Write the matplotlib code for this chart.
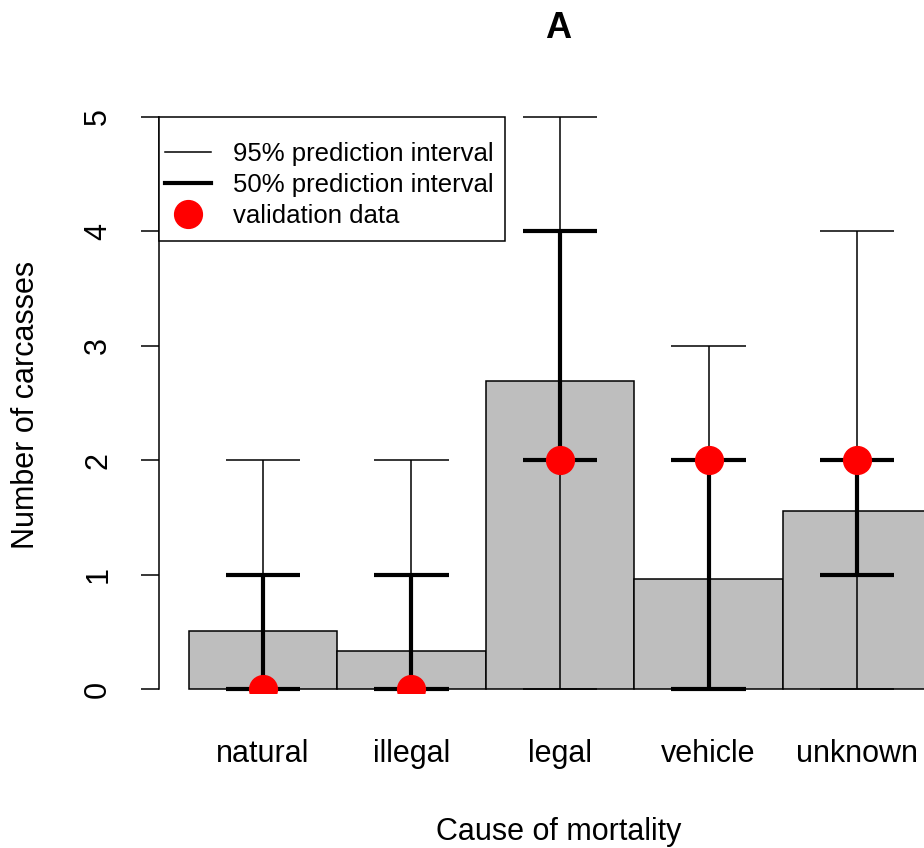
import matplotlib
matplotlib.use("Agg")
import matplotlib.pyplot as plt
import numpy as np
from matplotlib.lines import Line2D
from matplotlib.patches import Rectangle

# Predicted carcass counts by cause of mortality, with prediction intervals
categories = ["natural", "illegal", "legal", "vehicle", "unknown"]
predicted = [0.51, 0.33, 2.69, 0.96, 1.56]
pi95_low = [0, 0, 0, 0, 0]
pi95_high = [2, 2, 5, 3, 4]
pi50_low = [0, 0, 2, 0, 1]
pi50_high = [1, 1, 4, 2, 2]
observed = [0, 0, 2, 2, 2]
y_ticks = [0, 1, 2, 3, 4, 5]
legend_labels = ["95% prediction interval", "50% prediction interval", "validation data"]

plt.rcParams["font.family"] = ["Liberation Sans", "DejaVu Sans"]

W, H = 924, 848
fig = plt.figure(figsize=(W / 100, H / 100), dpi=100)
left, right, top, bottom = 159, 961, 117, 693
ax_w, ax_h = right - left, bottom - top
ax = fig.add_axes([left / W, 1 - bottom / H, ax_w / W, ax_h / H])

x = np.arange(len(categories)) + 0.5
thin, thick, cap = 1.1, 3.0, 0.25

ax.bar(x, predicted, width=1.0, color="#bebebe", edgecolor="black",
       linewidth=thin, zorder=1)

# 95% intervals
ax.vlines(x, pi95_low, pi95_high, colors="black", linewidth=thin, zorder=2, clip_on=False)
ax.hlines(pi95_low, x - cap, x + cap, colors="black", linewidth=thin, zorder=2, clip_on=False)
ax.hlines(pi95_high, x - cap, x + cap, colors="black", linewidth=thin, zorder=2, clip_on=False)

# 50% intervals
ax.vlines(x, pi50_low, pi50_high, colors="black", linewidth=thick, zorder=3, clip_on=False)
ax.hlines(pi50_low, x - cap, x + cap, colors="black", linewidth=thick, zorder=3, clip_on=False)
ax.hlines(pi50_high, x - cap, x + cap, colors="black", linewidth=thick, zorder=3, clip_on=False)

ax.plot(x, observed, "o", color="red", markersize=20, zorder=4)

ax.set_xlim(-0.2, 5.2)
ax.set_ylim(-0.035, 5)

for s in ("top", "right", "bottom"):
    ax.spines[s].set_visible(False)
ax.spines["left"].set_bounds(0, 5)
ax.spines["left"].set_linewidth(thin)

ax.set_yticks(y_ticks)
ax.set_yticklabels([str(v) for v in y_ticks], rotation=90, va="center")
ax.tick_params(axis="y", direction="out", length=13, width=thin, pad=20,
               labelsize=22, colors="black")
ax.set_xticks(x, categories)
ax.tick_params(axis="x", length=0, pad=33, labelsize=22)

ax.set_ylabel("Number of carcasses", fontsize=22, va="center")
ax.yaxis.set_label_coords(-0.166, 0.5)
ax.set_xlabel("Cause of mortality", fontsize=22)
ax.xaxis.set_label_coords(0.498, -0.215)

ax.text(0.498, 1.153, "A", transform=ax.transAxes, ha="center", va="center",
        fontsize=26, fontweight="bold")

# Legend box, drawn as a plain rectangle in the top-left corner of the plot
box_w, box_h = 346 / ax_w, 124 / ax_h
ax.add_patch(Rectangle((0, 1 - box_h), box_w, box_h, transform=ax.transAxes,
                       facecolor="white", edgecolor="black", linewidth=thin,
                       zorder=5, clip_on=False))

handles = [
    Line2D([], [], color="black", linewidth=thin),
    Line2D([], [], color="black", linewidth=thick),
    Line2D([], [], color="red", marker="o", linestyle="none", markersize=20),
]
leg = ax.legend(handles, legend_labels, loc="upper left",
                bbox_to_anchor=(6 / ax_w, 1 - 25 / ax_h),
                bbox_transform=ax.transAxes, borderaxespad=0, borderpad=0,
                frameon=False, fontsize=18.5, handlelength=1.8,
                handletextpad=0.85, labelspacing=0.27)
leg.set_zorder(6)

fig.savefig("out.png", dpi=100)
